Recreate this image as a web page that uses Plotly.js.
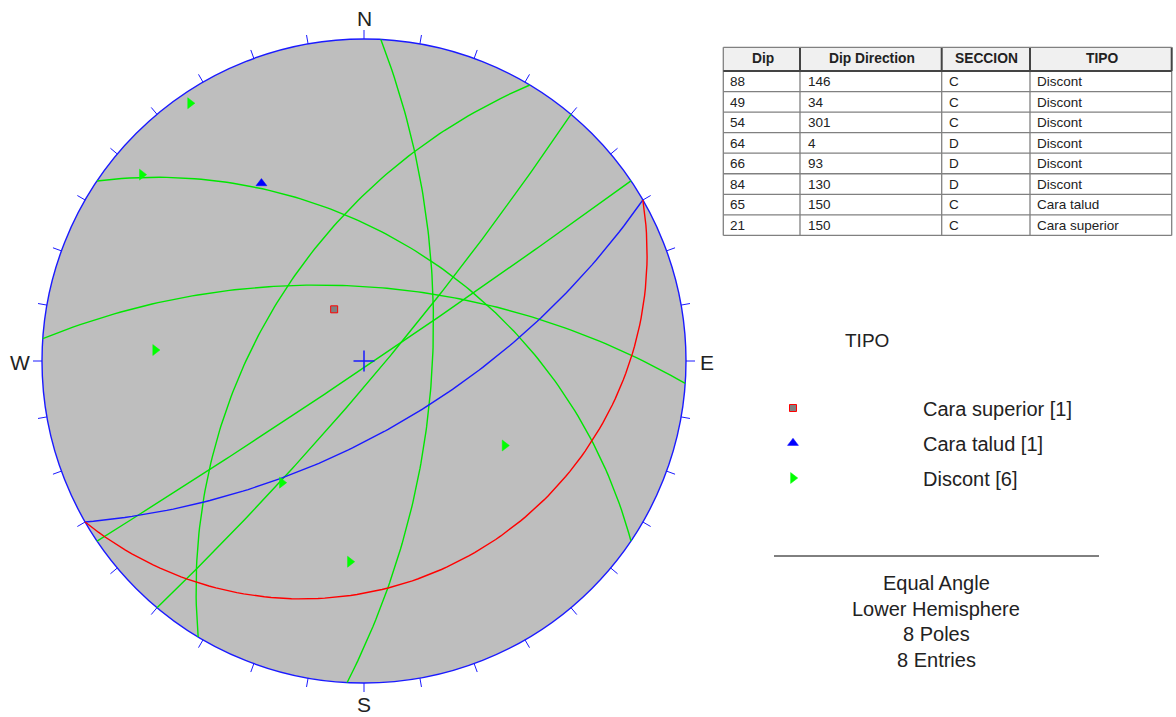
<!DOCTYPE html>
<html><head><meta charset="utf-8">
<script src="https://cdn.plot.ly/plotly-3.0.1.min.js"></script>
<style>html,body{margin:0;padding:0;background:#fff;overflow:hidden}</style>
</head><body><div id="chart" style="width:1176px;height:717px"></div>
<script>
// Table data
const dips = [88, 49, 54, 64, 66, 84, 65, 21];
const dipDirections = [146, 34, 301, 4, 93, 130, 150, 150];
const secciones = ['C','C','C','D','D','D','C','C'];
const tipos = ['Discont','Discont','Discont','Discont','Discont','Discont','Cara talud','Cara superior'];
const tableHeaders = ['Dip','Dip Direction','SECCION','TIPO'];
const legendOrder = ['Cara superior','Cara talud','Discont'];
const summaryLines = ['Equal Angle','Lower Hemisphere','8 Poles','8 Entries'];

const GREEN='#00e600', BLUE='#1a1aff', RED='#ff0000';
const planeColor = {'Discont':GREEN,'Cara talud':BLUE,'Cara superior':RED};
const poleStyle = {
  'Cara superior':{symbol:'square',size:7,color:'#808080',line:{color:RED,width:1}},
  'Cara talud':{symbol:'triangle-up',size:9.5,color:'#0000ff',line:{color:'#0000ff',width:0.5}},
  'Discont':{symbol:'triangle-right',size:9.5,color:'#00ff00',line:{color:'#00ff00',width:0.5}}
};
const rad=Math.PI/180;
// Equal-angle lower hemisphere projection of a line (trend, plunge in degrees)
function proj(trend,plunge){
  const r=Math.tan((90-plunge)/2*rad);
  return [r*Math.sin(trend*rad), r*Math.cos(trend*rad)];
}
function greatCircle(dip,dd){
  const xs=[],ys=[];
  for(let t=0;t<=180;t+=1.5){
    const plunge=Math.asin(Math.sin(t*rad)*Math.sin(dip*rad))/rad;
    const horizAlong=Math.cos(t*rad), horizDown=Math.sin(t*rad)*Math.cos(dip*rad);
    const trend=dd-90+Math.atan2(horizDown,horizAlong)/rad;
    const p=proj(trend,plunge); xs.push(p[0]); ys.push(p[1]);
  }
  return {xs,ys};
}
const traces=[];
// Azimuth ticks every 10 degrees
const tx=[],ty=[];
for(let a=0;a<360;a+=10){
  const s=Math.sin(a*rad),c=Math.cos(a*rad),L=1+9/322;
  tx.push(s,s*L,null); ty.push(c,c*L,null);
}
traces.push({type:'scatter',mode:'lines',x:tx,y:ty,line:{color:BLUE,width:1},showlegend:false,hoverinfo:'skip'});
// Planes
dips.forEach((d,i)=>{
  const g=greatCircle(d,dipDirections[i]);
  traces.push({type:'scatter',mode:'lines',x:g.xs,y:g.ys,line:{color:planeColor[tipos[i]],width:1.4},showlegend:false,hoverinfo:'skip'});
});
// Centre cross
traces.push({type:'scatter',mode:'markers',x:[0],y:[0],marker:{symbol:'cross-thin',size:15,line:{color:BLUE,width:1.5}},showlegend:false,hoverinfo:'skip'});
// Poles per type
legendOrder.forEach(name=>{
  const xs=[],ys=[];
  tipos.forEach((t,i)=>{ if(t===name){const p=proj((dipDirections[i]+180)%360,90-dips[i]);xs.push(p[0]);ys.push(p[1]);}});
  traces.push({type:'scatter',mode:'markers',name:name+' ['+xs.length+']',legendgroup:name,x:xs,y:ys,marker:poleStyle[name],showlegend:true});
});
const W=1176,H=717,CX=364,CY=361,R=322;
const px=x=>x/W, py=y=>1-y/H;
const ann=(x,y,text,size,anchor)=>({xref:'paper',yref:'paper',x:px(x),y:py(y),text,showarrow:false,xanchor:anchor||'center',yanchor:'middle',
  xshift:0,borderpad:0,font:{family:'Liberation Sans',size,color:'#222'}});
const annotations=[ann(364,18.5,'N',21),ann(364,704.5,'S',21),ann(20,362,'W',21),ann(707,362,'E',21),ann(867,340,'TIPO',19)];
summaryLines.forEach((s,i)=>annotations.push(ann(936,[583,609,634,660][i],s,20)));
const shapes=[
  {type:'circle',xref:'x',yref:'y',x0:-1,x1:1,y0:-1,y1:1,fillcolor:'#bebebe',line:{color:BLUE,width:1.4},layer:'below'},
  {type:'line',xref:'paper',yref:'paper',x0:px(774),x1:px(1099),y0:py(556),y1:py(556),line:{color:'#000',width:1}}
];
// Table grid and text
const colEdges=[723.3,800,941.7,1030,1171.7];
const headerCentres=[763,871.7,986.7,1101.7];
const cellLefts=[729,806.7,947.7,1036];
const tableTop=47.3, headerBottom=71, rowH=20.55;
const rows=dips.length, tableBottom=headerBottom+rows*rowH;
const seg=(x0,y0,x1,y1,color,width)=>({type:'line',xref:'paper',yref:'paper',x0:px(x0),x1:px(x1),y0:py(y0),y1:py(y1),line:{color,width}});
shapes.push({type:'rect',xref:'paper',yref:'paper',x0:px(colEdges[0]),x1:px(colEdges[4]),y0:py(tableTop),y1:py(headerBottom),fillcolor:'#f0f0f0',line:{width:0}});
for(let r=1;r<=rows;r++) shapes.push(seg(colEdges[0],headerBottom+r*rowH,colEdges[4],headerBottom+r*rowH,'#808080',1.3));
colEdges.forEach((x,i)=>{
  shapes.push(seg(x,headerBottom,x,tableBottom,'#808080',1.3));
  shapes.push(seg(x,tableTop,x,headerBottom,i===0?'#808080':'#444',i===0?1.3:2));
});
shapes.push(seg(colEdges[0],tableTop,colEdges[4],tableTop,'#808080',1.3));
shapes.push(seg(colEdges[0],headerBottom,colEdges[4],headerBottom,'#444',2));
tableHeaders.forEach((h,c)=>annotations.push(ann(headerCentres[c],58.6,'<b>'+h+'</b>',13.8)));
[dips,dipDirections,secciones,tipos].forEach((col,c)=>col.forEach((v,r)=>
  annotations.push(ann(cellLefts[c],headerBottom+(r+0.5)*rowH+0.3,String(v),13.5,'left'))));
const layout={
  width:W,height:H,margin:{l:0,r:0,t:0,b:0},paper_bgcolor:'#fff',plot_bgcolor:'#fff',
  xaxis:{visible:false,range:[-CX/R,(W-CX)/R],fixedrange:true},
  yaxis:{visible:false,range:[-(H-CY)/R,CY/R],fixedrange:true},
  shapes,annotations,
  legend:{x:663/W,y:1-388.5/H,xanchor:'left',yanchor:'top',itemwidth:250,bgcolor:'rgba(0,0,0,0)',borderwidth:0,
    tracegroupgap:6,traceorder:'grouped',font:{family:'Liberation Sans',size:20,color:'#222'}}
};
Plotly.newPlot('chart',traces,layout,{displayModeBar:false,responsive:false});
</script></body></html>
